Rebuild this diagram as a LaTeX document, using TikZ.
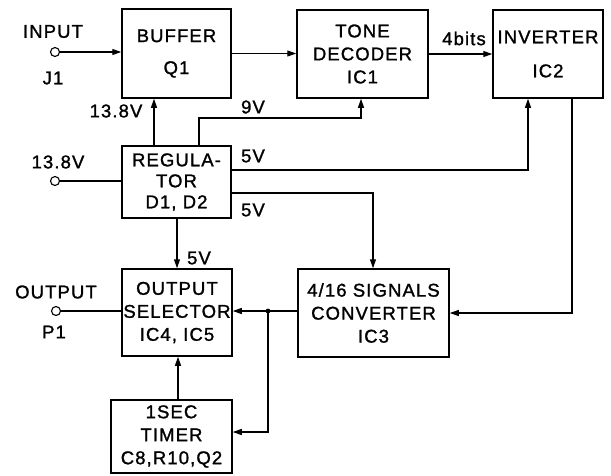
\documentclass[tikz,border=0pt]{standalone}
\usepackage{fontspec}
\setmainfont{Liberation Sans}[LetterSpace=6,FakeBold=1.3]
\usetikzlibrary{arrows.meta}
\begin{document}
\begin{tikzpicture}[x=1pt,y=-1pt,
  blk/.style={draw, line width=1.5pt, inner sep=0pt, align=center, font=\fontsize{18.5}{23}\selectfont},
  lbl/.style={inner sep=0pt, font=\fontsize{18.5}{22}\selectfont},
  wire/.style={line width=1.1pt},
  arr/.style={wire, -{Triangle[length=9pt,width=6pt]}},
  term/.style={circle, draw, line width=1.1pt, minimum size=9pt, inner sep=0pt}]
\useasboundingbox (0,0) rectangle (611,475);
% blocks
\node[blk, minimum width=109pt, minimum height=89pt] (buf) at (176.5,53.5) {BUFFER\\[9pt]Q1};
\node[blk, minimum width=131pt, minimum height=88pt] (tone) at (362.5,54) {TONE\\DECODER\\IC1};
\node[blk, minimum width=110pt, minimum height=88pt] (inv) at (548,54) {INVERTER\\[11pt]IC2};
\node[blk, minimum width=109pt, minimum height=72pt] (reg) at (176.5,182) {REGULA-\\[-2pt]TOR\\[-2pt]D1, D2};
\node[blk, minimum width=110pt, minimum height=87pt] (sel) at (177,312.5) {OUTPUT\\SELECTOR\\IC4, IC5};
\node[blk, minimum width=151pt, minimum height=88pt] (conv) at (373.5,313) {4/16 SIGNALS\\CONVERTER\\IC3};
\node[blk, minimum width=121pt, minimum height=73pt] (tim) at (171.5,436.5) {1SEC\\TIMER\\C8,R10,Q2};
% terminals
\node[term] (j1) at (55,52) {};
\node[lbl] (inlbl) at (53,31.5) {INPUT};
\node[lbl] (j1lbl) at (53,78) {J1};
\node[term] (t138) at (55,181) {};
\node[lbl] (t138lbl) at (58,162) {13.8V};
\node[term] (p1) at (56,311) {};
\node[lbl] (outlbl) at (56,292) {OUTPUT};
\node[lbl] (p1lbl) at (54,332) {P1};
% labels on wires
\node[lbl] (l138) at (116,111) {13.8V};
\node[lbl] (l9) at (253,107) {9V};
\node[lbl] (l5a) at (253,156) {5V};
\node[lbl] (l5b) at (253,210) {5V};
\node[lbl] (l5c) at (199,258) {5V};
\node[lbl] (bits) at (464,38.5) {4bits};
% helper coordinates
\coordinate (x154) at (154,0);
\coordinate (v9a) at (199,118);
\coordinate (v9b) at (361,118);
\coordinate (v5a) at (528,170);
\coordinate (v5b) at (373,193);
\coordinate (x177) at (177,0);
\coordinate (ic) at (572,313);
\coordinate (jn) at (268,311);
\coordinate (tj) at (268,432);
\coordinate (x178) at (178,0);
% wires
\draw[arr] (j1) -- (j1 -| buf.west);
\draw[arr] (buf.east) -- (buf.east -| tone.west);
\draw[arr] (tone.east) -- (tone.east -| inv.west);
\draw[arr] (reg.north -| x154) -- (buf.south -| x154);
\draw[arr] (reg.north -| v9a) -- (v9a) -- (v9b) -- (tone.south -| v9b);
\draw[arr] (reg.east |- v5a) -- (v5a) -- (inv.south -| v5a);
\draw[arr] (reg.east |- v5b) -- (v5b) -- (conv.north -| v5b);
\draw[arr] (reg.south -| x177) -- (sel.north -| x177);
\draw[wire] (t138) -- (t138 -| reg.west);
\draw[arr] (inv.south -| ic) -- (ic) -- (ic -| conv.east);
\draw[arr] (conv.west |- jn) -- (sel.east |- jn);
\fill (jn) circle (2.4pt);
\draw[arr] (jn) -- (tj) -- (tj -| tim.east);
\draw[arr] (tim.north -| x178) -- (sel.south -| x178);
\draw[wire] (p1) -- (p1 -| sel.west);
\end{tikzpicture}
\end{document}
